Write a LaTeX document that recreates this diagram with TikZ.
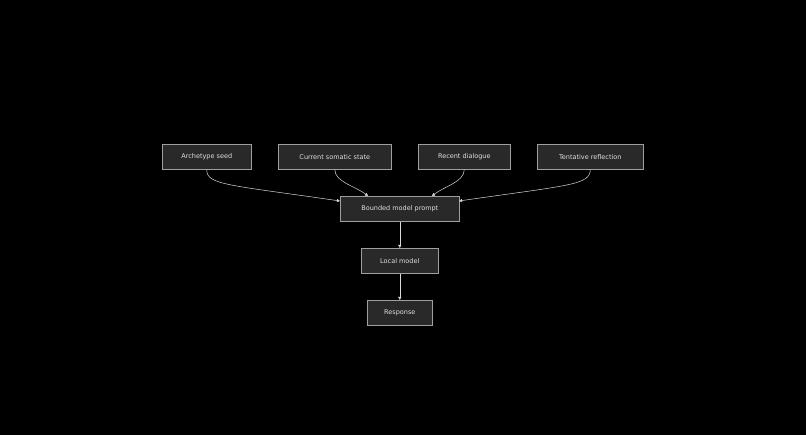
\documentclass[tikz,border=0pt]{standalone}
\usepackage{fontspec}
\setmainfont{DejaVu Sans}
\usetikzlibrary{arrows.meta}
\begin{document}
\begin{tikzpicture}[x=1pt,y=-1pt,
 box/.style={draw=gray!75,fill=white!16!black,text=white!88!black,font=\fontsize{6.5}{8}\selectfont,inner sep=0pt,line width=0.6pt,anchor=north west},
 ar/.style={draw=white!85!black,line width=0.5pt,-{Triangle[length=3pt,width=3pt]}}]
\fill[black] (0,0) rectangle (806,435);
\useasboundingbox (0,0) rectangle (806,435);
\node[box,minimum width=89pt,minimum height=25pt] (a) at (162,144) {Archetype seed};
\node[box,minimum width=113pt,minimum height=25pt] (c) at (278,144) {Current somatic state};
\node[box,minimum width=92pt,minimum height=25pt] (r) at (418,144) {Recent dialogue};
\node[box,minimum width=106pt,minimum height=25pt] (t) at (537,144) {Tentative reflection};
\node[box,minimum width=119pt,minimum height=25pt] (b) at (340,196) {Bounded model prompt};
\node[box,minimum width=77pt,minimum height=25pt] (l) at (361,248) {Local model};
\node[box,minimum width=65pt,minimum height=25pt] (o) at (367,300) {Response};
\coordinate (b1) at (340,201);
\coordinate (b2) at (368,196);
\coordinate (b3) at (432,196);
\coordinate (b4) at (459,201);
\draw[ar] (a.south) .. controls (206,185) and (230,185) .. (b1);
\draw[ar] (c.south) .. controls (335,182) and (355,186) .. (b2);
\draw[ar] (r.south) .. controls (464,182) and (445,186) .. (b3);
\draw[ar] (t.south) .. controls (590,185) and (570,185) .. (b4);
\draw[ar] (b.south) -- (l.north);
\draw[ar] (l.south) -- (o.north);
\end{tikzpicture}
\end{document}
